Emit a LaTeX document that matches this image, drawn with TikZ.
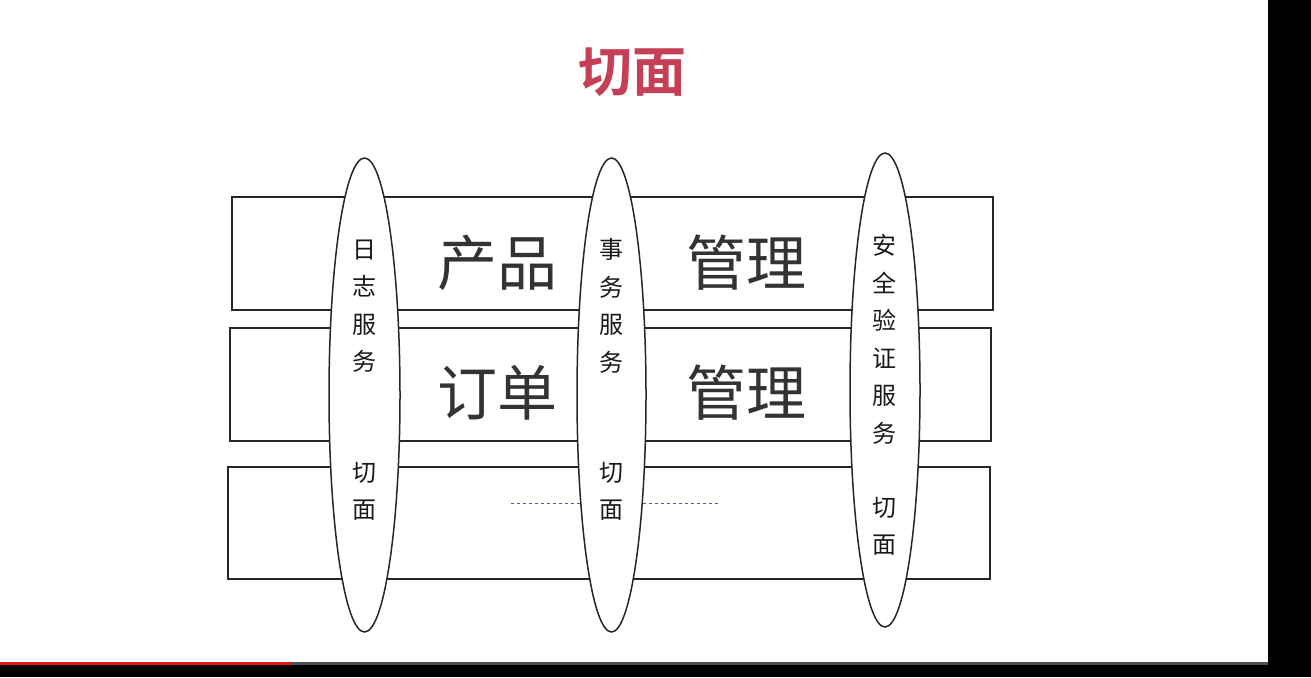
\documentclass[tikz,border=0pt]{standalone}
\usepackage{fontspec}
\newfontfamily\cjk{Noto Sans CJK SC}
\newfontfamily\cjkb{Noto Sans CJK SC Bold}
\usetikzlibrary{shapes.geometric}
\definecolor{titlered}{RGB}{197,64,86}
\definecolor{dotcol}{RGB}{95,85,140}
\definecolor{barred}{RGB}{230,20,20}
\definecolor{bargray}{RGB}{75,83,88}
\begin{document}
\begin{tikzpicture}[x=1pt,y=-1pt,
  rowbox/.style={draw=black!85,line width=1.3pt},
  aspect/.style={ellipse,draw=black!85,fill=white,line width=1.5pt,inner sep=0pt},
  bigtext/.style={font=\cjk\fontsize{60}{62}\selectfont,text=black!80},
  smalltext/.style={font=\cjk\fontsize{24}{37.5}\selectfont,align=center,text=black!90}]
\useasboundingbox (0,0) rectangle (1311,677);
\fill[white] (0,0) rectangle (1311,677);
% title
\node[font=\cjkb\fontsize{54}{56}\selectfont,text=titlered] (title) at (632,72) {切面};
% rows
\draw[rowbox] (232,197) rectangle (993,310);
\draw[rowbox] (230,328) rectangle (991,441);
\draw[rowbox] (228,467) rectangle (990,579);
% dotted line
\coordinate (d1) at (511,503);
\coordinate (d2) at (721,503);
\draw[dotcol,line width=1pt,dash pattern=on 3pt off 3pt] (d1) -- (d2);
% aspects
\node[aspect,minimum width=71pt,minimum height=474pt] (e1) at (364.5,395) {};
\node[aspect,minimum width=69pt,minimum height=474pt] (e2) at (611.5,395) {};
\node[aspect,minimum width=70pt,minimum height=474pt] (e3) at (885,390) {};
% big texts
\node[bigtext] (t1) at (497,263) {产品};
\node[bigtext] (t2) at (746,263) {管理};
\node[bigtext] (t3) at (497,393) {订单};
\node[bigtext] (t4) at (746,393) {管理};
% aspect texts
\node[smalltext] (a1) at (364,306) {日\\志\\服\\务};
\node[smalltext] (b1) at (364,491.5) {切\\面};
\node[smalltext] (a2) at (611,306) {事\\务\\服\\务};
\node[smalltext] (b2) at (611,491.5) {切\\面};
\node[smalltext] (a3) at (884,339.5) {安\\全\\验\\证\\服\\务};
\node[smalltext] (b3) at (884,526.5) {切\\面};
% screen frame
\fill[black] (1268,0) rectangle (1311,677);
\fill[black] (0,665) rectangle (1311,677);
\fill[barred] (0,662) rectangle (291,665);
\fill[bargray] (291,662) rectangle (1268,665);
\end{tikzpicture}
\end{document}
